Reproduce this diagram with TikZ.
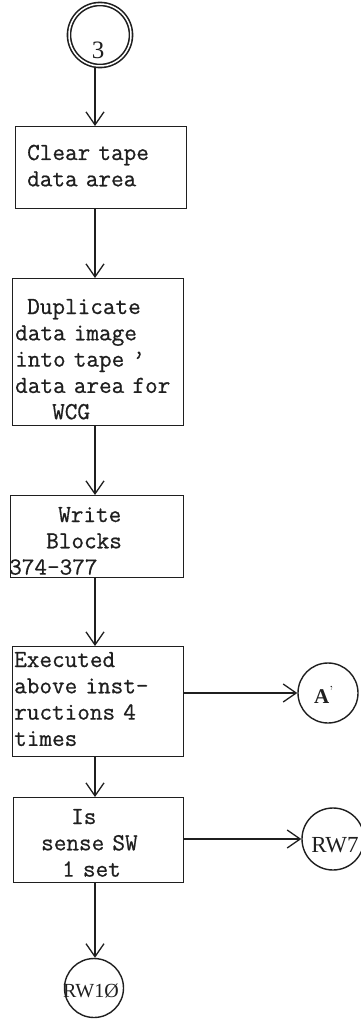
\documentclass[tikz,border=0pt]{standalone}
\usepackage{fontspec}
\usetikzlibrary{arrows.meta}
\newfontfamily\conlbl{Liberation Serif}
\newfontfamily\typer{Latin Modern Mono}[AutoFakeBold=0.7]
\definecolor{ink}{gray}{0.12}
\tikzset{
  flow/.style={draw=ink, line width=1.4pt},
  stepbox/.style={flow, rectangle, anchor=north west, inner sep=0pt},
  boxtext/.style={anchor=base west, align=left, inner sep=0pt, text width=180pt,
    text=ink, font=\typer\bfseries\fontsize{24.5}{26.3}\selectfont},
  conn/.style={flow, circle, inner sep=0pt, minimum size=60pt},
  connlbl/.style={text=ink, inner sep=0pt, font=\conlbl\fontsize{22}{24}\selectfont},
  arr/.style={flow, -{Straight Barb[length=13pt,width=18pt,line width=1.3pt]}},
}
\begin{document}
\begin{tikzpicture}[x=1pt, y=1pt]
  \useasboundingbox (0,0) rectangle (361,-1019);
  \coordinate (col) at (95,0);

  % entry connector
  \node[conn, minimum size=62pt, double=white, double distance=1.5pt, line width=1.6pt] (c3) at (100,-35) {};
  \node[connlbl, font=\conlbl\fontsize{25}{26}\selectfont] (c3t) at ([xshift=-2pt,yshift=-15pt]c3.center) {3};

  % process boxes
  \node[stepbox, minimum width=171pt, minimum height=82pt] (b1) at (15,-126) {};
  \node[boxtext] (b1t) at (27,-160) {Clear tape\\data area};

  \node[stepbox, minimum width=171pt, minimum height=147pt] (b2) at (12,-278) {};
  \node[boxtext] (b2t) at (15,-314) {\hspace*{12pt}Duplicate\\data image\\into tape ’\\data area for\\\hspace*{37pt}WCG};

  \node[stepbox, minimum width=173pt, minimum height=82pt] (b3) at (10,-495) {};
  \node[boxtext] (b3t) at (9,-522) {\hspace*{49pt}Write\\\hspace*{37pt}Blocks\\374-377};

  \node[stepbox, minimum width=171pt, minimum height=110pt] (b4) at (12,-646) {};
  \node[boxtext] (b4t) at (14,-667) {Executed\\above inst-\\ructions 4\\times};

  \node[stepbox, minimum width=170pt, minimum height=85pt] (b5) at (13,-797) {};
  \node[boxtext] (b5t) at (41,-824) {\hspace*{30pt}Is\\sense SW\\\hspace*{21pt}1 set};

  % off-page connectors
  \node[conn] (ca) at (328,-693) {};
  \node[connlbl, font=\conlbl\bfseries\fontsize{21}{24}\selectfont] (cat) at ([xshift=-4pt,yshift=-2pt]ca.center) {A\textsuperscript{\normalfont’}};

  \node[conn, minimum size=62pt] (r7) at (333,-839) {};
  \node[connlbl, font=\conlbl\fontsize{23}{24}\selectfont] (r7t) at ([xshift=2pt,yshift=-6pt]r7.center) {RW7};

  \node[conn, minimum size=59pt] (r10) at (94,-988) {};
  \node[connlbl, font=\conlbl\fontsize{20}{24}\selectfont] (r10t) at ([xshift=-3pt,yshift=-3pt]r10.center) {RW1Ø};

  % flow lines
  \draw[arr] (c3.south -| col) -- (b1.north -| col);
  \draw[arr] (b1.south -| col) -- (b2.north -| col);
  \draw[arr] (b2.south -| col) -- (b3.north -| col);
  \draw[arr] (b3.south -| col) -- (b4.north -| col);
  \draw[arr] (b4.south -| col) -- (b5.north -| col);
  \draw[arr] (b5.south -| col) -- (r10.north -| col);
  \draw[arr] (b4.east |- ca.west) -- (ca.west);
  \draw[arr] (b5.east |- r7.west) -- (r7.west);
\end{tikzpicture}
\end{document}
